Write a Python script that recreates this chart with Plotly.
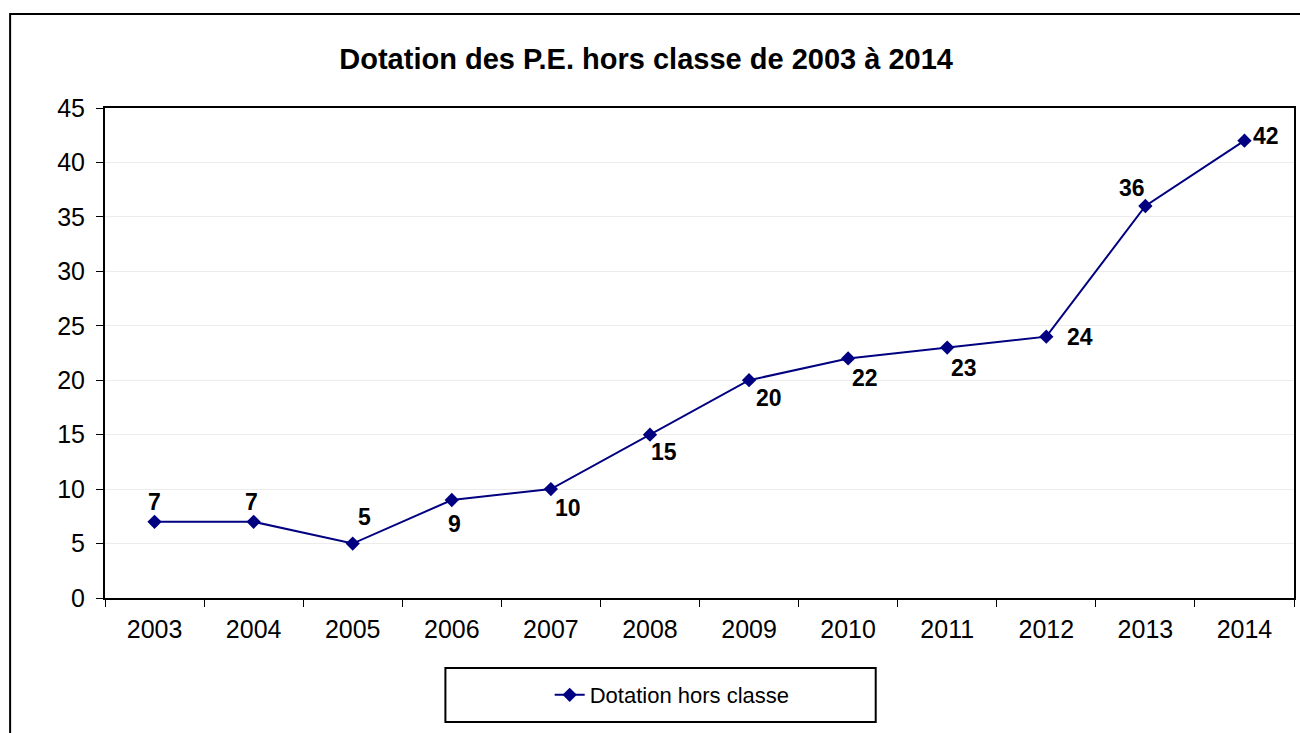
import plotly.graph_objects as go

years = ["2003", "2004", "2005", "2006", "2007", "2008",
         "2009", "2010", "2011", "2012", "2013", "2014"]
dotation = [7, 7, 5, 9, 10, 15, 20, 22, 23, 24, 36, 42]
# label offsets (px) relative to each marker
label_dx = [0, -2, 12, 3, 17, 14, 20, 17, 17, 34, -13, 22]
label_dy = [20, 20, 27, -24, -19, -17, -18, -20, -20, 0, 18, 5]

series_name = "Dotation hors classe"
title_text = "Dotation des P.E. hors classe de 2003 à 2014"
font_family = "Liberation Sans, Arial, sans-serif"
navy = "#000080"

fig = go.Figure()
fig.add_trace(go.Scatter(
    x=years, y=dotation, mode="lines+markers", name=series_name,
    line=dict(color=navy, width=2),
    marker=dict(symbol="diamond", size=11, color=navy),
))

# value labels, positioned by category index on the category axis
for i, (v, dx, dy) in enumerate(zip(dotation, label_dx, label_dy)):
    fig.add_annotation(
        x=i, y=v, text=str(v), showarrow=False,
        xshift=dx, yshift=dy,
        font=dict(family=font_family, size=23, color="black", weight="bold"),
    )

# legend frame and outer chart frame
fig.add_shape(type="rect", xref="paper", yref="paper",
              x0=0.2863, x1=0.6482, y0=-0.253, y1=-0.1429,
              line=dict(color="black", width=2), fillcolor="rgba(0,0,0,0)")
fig.add_shape(type="rect", xref="paper", yref="paper",
              x0=-0.0798, x1=1.02, y0=-0.30, y1=1.1918,
              line=dict(color="black", width=2), fillcolor="rgba(0,0,0,0)")

fig.update_layout(
    width=1300, height=733,
    margin=dict(l=105, r=4, t=108, b=135),
    paper_bgcolor="white", plot_bgcolor="white",
    font=dict(family=font_family, color="black"),
    title=dict(text=title_text, x=0.497, xref="container", xanchor="center",
               y=1 - 59 / 733, yref="container", yanchor="middle",
               font=dict(size=29, family=font_family, weight="bold")),
    showlegend=True,
    legend=dict(x=0.374, y=-0.198, xanchor="left", yanchor="middle",
                orientation="h", font=dict(size=22, family=font_family),
                bgcolor="rgba(0,0,0,0)"),
    xaxis=dict(type="category", categoryorder="array", categoryarray=years,
               range=[-0.5, len(years) - 0.5], tickangle=0,
               showline=True, linecolor="black", linewidth=2,
               mirror=True, ticks="outside", tickson="boundaries", ticklen=7,
               tickcolor="black", tickwidth=1, showgrid=False,
               ticklabelstandoff=8,
               tickfont=dict(size=25), fixedrange=True),
    yaxis=dict(range=[0, 45], dtick=5, showline=True, linecolor="black",
               linewidth=2, mirror=True, ticks="outside", ticklen=7,
               tickcolor="black", tickwidth=1, showgrid=True,
               gridcolor="#ececec", gridwidth=1, zeroline=False,
               ticklabelstandoff=6,
               tickfont=dict(size=25), fixedrange=True),
)

fig.write_html("out.html")
